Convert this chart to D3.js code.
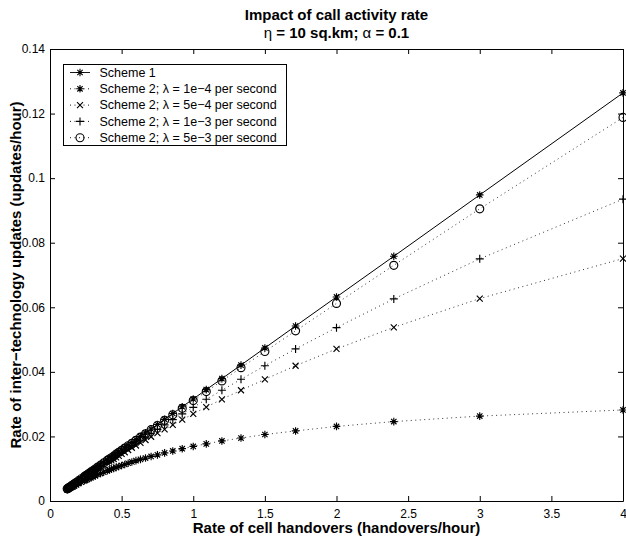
<!DOCTYPE html>
<html>
<head>
<meta charset="utf-8">
<script src="https://cdn.jsdelivr.net/npm/d3@7"></script>
<style>
  body { margin: 0; background: #fff; }
  svg { display: block; font-family: "Liberation Sans", Arial, Helvetica, sans-serif; }
</style>
</head>
<body>
<div id="chart"></div>
<script>
// Rate of cell handovers (handovers/hour), shared x values of every series
const handoverRate = [4, 3, 2.4, 2, 1.7143, 1.5, 1.3333, 1.2, 1.0909, 1,
  0.9231, 0.8571, 0.8, 0.75, 0.7059, 0.6667, 0.6316, 0.6, 0.5714, 0.5455,
  0.5217, 0.5, 0.48, 0.4615, 0.4444, 0.4286, 0.4138, 0.4, 0.375, 0.3529,
  0.3333, 0.3158, 0.3, 0.2857, 0.2727, 0.2609, 0.25, 0.24, 0.2182, 0.2,
  0.1846, 0.1714, 0.16, 0.15, 0.1412, 0.1333, 0.1263, 0.12];

// Rate of inter-technology updates (updates/hour)
const scheme1 = [0.1264, 0.0948, 0.0758, 0.0632, 0.0542, 0.0474, 0.0421, 0.0379, 0.0345, 0.0316,
  0.0292, 0.0271, 0.0253, 0.0237, 0.0223, 0.0211, 0.0200, 0.0190, 0.0181, 0.0172,
  0.0165, 0.0158, 0.0152, 0.0146, 0.0140, 0.0135, 0.0131, 0.0126, 0.0119, 0.0112,
  0.0105, 0.0100, 0.0095, 0.0090, 0.0086, 0.0082, 0.0079, 0.0076, 0.0069, 0.0063,
  0.0058, 0.0054, 0.0051, 0.0047, 0.0045, 0.0042, 0.0040, 0.0038];
const scheme2L1e4 = [0.0282, 0.0263, 0.0246, 0.0231, 0.0217, 0.0206, 0.0195, 0.0186, 0.0177, 0.0169,
  0.0162, 0.0155, 0.0149, 0.0143, 0.0138, 0.0133, 0.0129, 0.0125, 0.0121, 0.0117,
  0.0113, 0.0110, 0.0107, 0.0104, 0.0101, 0.0099, 0.0096, 0.0094, 0.0089, 0.0085,
  0.0082, 0.0078, 0.0075, 0.0072, 0.0070, 0.0067, 0.0065, 0.0063, 0.0058, 0.0054,
  0.0050, 0.0047, 0.0044, 0.0042, 0.0040, 0.0038, 0.0036, 0.0034];
const scheme2L5e4 = [0.0751, 0.0627, 0.0538, 0.0471, 0.0419, 0.0377, 0.0343, 0.0315, 0.0291, 0.0270,
  0.0252, 0.0236, 0.0222, 0.0210, 0.0199, 0.0189, 0.0180, 0.0172, 0.0165, 0.0158,
  0.0151, 0.0146, 0.0140, 0.0135, 0.0130, 0.0126, 0.0122, 0.0118, 0.0111, 0.0105,
  0.0100, 0.0095, 0.0090, 0.0086, 0.0082, 0.0079, 0.0076, 0.0073, 0.0067, 0.0061,
  0.0057, 0.0053, 0.0049, 0.0046, 0.0044, 0.0041, 0.0039, 0.0037];
const scheme2L1e3 = [0.0935, 0.0750, 0.0626, 0.0537, 0.0471, 0.0419, 0.0377, 0.0343, 0.0315, 0.0290,
  0.0270, 0.0252, 0.0236, 0.0222, 0.0210, 0.0199, 0.0189, 0.0180, 0.0172, 0.0165,
  0.0158, 0.0151, 0.0146, 0.0140, 0.0135, 0.0130, 0.0126, 0.0122, 0.0115, 0.0108,
  0.0102, 0.0097, 0.0092, 0.0088, 0.0084, 0.0081, 0.0077, 0.0074, 0.0068, 0.0062,
  0.0057, 0.0053, 0.0050, 0.0047, 0.0044, 0.0042, 0.0039, 0.0037];
const scheme2L5e3 = [0.1188, 0.0905, 0.0730, 0.0612, 0.0527, 0.0463, 0.0413, 0.0372, 0.0339, 0.0311,
  0.0287, 0.0267, 0.0250, 0.0234, 0.0221, 0.0208, 0.0198, 0.0188, 0.0179, 0.0171,
  0.0164, 0.0157, 0.0151, 0.0145, 0.0139, 0.0134, 0.0130, 0.0126, 0.0118, 0.0111,
  0.0105, 0.0099, 0.0094, 0.0090, 0.0086, 0.0082, 0.0079, 0.0076, 0.0069, 0.0063,
  0.0058, 0.0054, 0.0050, 0.0047, 0.0044, 0.0042, 0.0040, 0.0038];

const seriesNames = ['Scheme 1',
  'Scheme 2; \u03bb = 1e\u22124 per second',
  'Scheme 2; \u03bb = 5e\u22124 per second',
  'Scheme 2; \u03bb = 1e\u22123 per second',
  'Scheme 2; \u03bb = 5e\u22123 per second'];
const xTicks = [0, 0.5, 1, 1.5, 2, 2.5, 3, 3.5, 4];
const yTicks = [0, 0.02, 0.04, 0.06, 0.08, 0.1, 0.12, 0.14];

// MATLAB-like marker shapes (size = half length)
const markStar = { draw(ctx, r) {
  const d = r * 0.7071;
  ctx.moveTo(-r, 0); ctx.lineTo(r, 0);
  ctx.moveTo(0, -r); ctx.lineTo(0, r);
  ctx.moveTo(-d, -d); ctx.lineTo(d, d);
  ctx.moveTo(-d, d); ctx.lineTo(d, -d);
}};
const markCross = { draw(ctx, r) {
  ctx.moveTo(-r, -r); ctx.lineTo(r, r);
  ctx.moveTo(-r, r); ctx.lineTo(r, -r);
}};
const markPlus = { draw(ctx, r) {
  ctx.moveTo(-r, 0); ctx.lineTo(r, 0);
  ctx.moveTo(0, -r); ctx.lineTo(0, r);
}};
const markCircle = { draw(ctx, r) {
  ctx.moveTo(r, 0); ctx.arc(0, 0, r, 0, 2 * Math.PI);
}};

const series = [
  {name: seriesNames[0], values: scheme1, mark: markStar, size: 3.8, dash: null},
  {name: seriesNames[1], values: scheme2L1e4, mark: markStar, size: 3.8, dash: '1,3.5'},
  {name: seriesNames[2], values: scheme2L5e4, mark: markCross, size: 3, dash: '1,3.5'},
  {name: seriesNames[3], values: scheme2L1e3, mark: markPlus, size: 4, dash: '1,3.5'},
  {name: seriesNames[4], values: scheme2L5e3, mark: markCircle, size: 4, dash: '1,3.5'}
];

const width = 626, height = 540;
const margin = {top: 49, right: 3, bottom: 39, left: 50};
const innerW = width - margin.left - margin.right;
const innerH = height - margin.top - margin.bottom;

const svg = d3.select('#chart').append('svg')
  .attr('width', width)
  .attr('height', height);

const g = svg.append('g')
  .attr('transform', `translate(${margin.left},${margin.top})`);

const x = d3.scaleLinear().domain([0, 4]).range([0, innerW]);
const y = d3.scaleLinear().domain([0, 0.14]).range([innerH, 0]);

g.append('rect')
  .attr('width', innerW).attr('height', innerH)
  .attr('fill', '#fff');

// axes, MATLAB box style with inward ticks
const fmt = d => String(+d.toFixed(2));
g.append('g')
  .attr('class', 'axis')
  .attr('transform', `translate(0,${innerH})`)
  .call(d3.axisBottom(x).tickValues(xTicks).tickFormat(fmt).tickSizeInner(-5).tickSizeOuter(0).tickPadding(8));
g.append('g')
  .attr('class', 'axis')
  .call(d3.axisTop(x).tickValues(xTicks).tickFormat('').tickSizeInner(-5).tickSizeOuter(0));
g.append('g')
  .attr('class', 'axis')
  .call(d3.axisLeft(y).tickValues(yTicks).tickFormat(fmt).tickSizeInner(-5).tickSizeOuter(0).tickPadding(5));
g.append('g')
  .attr('class', 'axis')
  .attr('transform', `translate(${innerW},0)`)
  .call(d3.axisRight(y).tickValues(yTicks).tickFormat('').tickSizeInner(-5).tickSizeOuter(0));

g.selectAll('.axis text')
  .style('font-family', '"Liberation Sans", Arial, sans-serif')
  .style('font-size', '12px')
  .attr('fill', '#000');
g.selectAll('.axis path, .axis line').attr('stroke', '#000');

// series
const line = d3.line()
  .x(d => x(d[0]))
  .y(d => y(d[1]));

series.forEach(s => {
  const pts = handoverRate.map((h, i) => [h, s.values[i]]);
  g.append('path')
    .datum(pts)
    .attr('fill', 'none')
    .attr('stroke', s.dash ? '#333' : '#000')
    .attr('stroke-width', 1)
    .attr('stroke-dasharray', s.dash)
    .attr('d', line);

  g.selectAll(null)
    .data(pts)
    .enter()
    .append('path')
    .attr('transform', d => `translate(${x(d[0])},${y(d[1])})`)
    .attr('d', d3.symbol().type(s.mark).size(s.size))
    .attr('fill', 'none')
    .attr('stroke', '#000')
    .attr('stroke-width', 1.15);
});

// legend
const legend = g.append('g')
  .attr('transform', 'translate(13,15)');

legend.append('rect')
  .attr('x', 0.5).attr('y', 0.5)
  .attr('width', 223).attr('height', 81)
  .attr('fill', '#fff')
  .attr('stroke', '#000')
  .attr('stroke-width', 1);

series.forEach((s, i) => {
  const row = legend.append('g')
    .attr('transform', `translate(0,${8.5 + i * 16.3})`);
  row.append('line')
    .attr('x1', 7).attr('x2', 27)
    .attr('stroke', '#000')
    .attr('stroke-width', 0.9)
    .attr('stroke-dasharray', s.dash);
  row.append('path')
    .attr('transform', 'translate(17,0)')
    .attr('d', d3.symbol().type(s.mark).size(s.size))
    .attr('fill', 'none')
    .attr('stroke', '#000')
    .attr('stroke-width', 1.1);
  row.append('text')
    .attr('x', 36.5)
    .attr('dy', '0.35em')
    .style('font-size', '12.5px')
    .text(s.name);
});

// title
const title = svg.append('text')
  .attr('x', margin.left + innerW / 2)
  .attr('text-anchor', 'middle')
  .style('font-size', '15px')
  .style('font-weight', 'bold');
title.append('tspan').attr('x', margin.left + innerW / 2).attr('y', 20).text('Impact of call activity rate');
const sub = title.append('tspan').attr('x', margin.left + innerW / 2).attr('y', 38);
sub.append('tspan').style('font-weight', 'normal').text('\u03b7');
sub.append('tspan').text(' = 10 sq.km; ');
sub.append('tspan').style('font-weight', 'normal').text('\u03b1');
sub.append('tspan').text(' = 0.1');

// axis labels
svg.append('text')
  .attr('x', margin.left + innerW / 2)
  .attr('y', 533)
  .attr('text-anchor', 'middle')
  .style('font-size', '15px')
  .style('font-weight', 'bold')
  .text('Rate of cell handovers (handovers/hour)');

svg.append('text')
  .attr('transform', `translate(20.5,${margin.top + innerH / 2}) rotate(-90)`)
  .attr('text-anchor', 'middle')
  .style('font-size', '15px')
  .style('font-weight', 'bold')
  .text('Rate of inter\u2212technology updates (updates/hour)');
</script>
</body>
</html>
